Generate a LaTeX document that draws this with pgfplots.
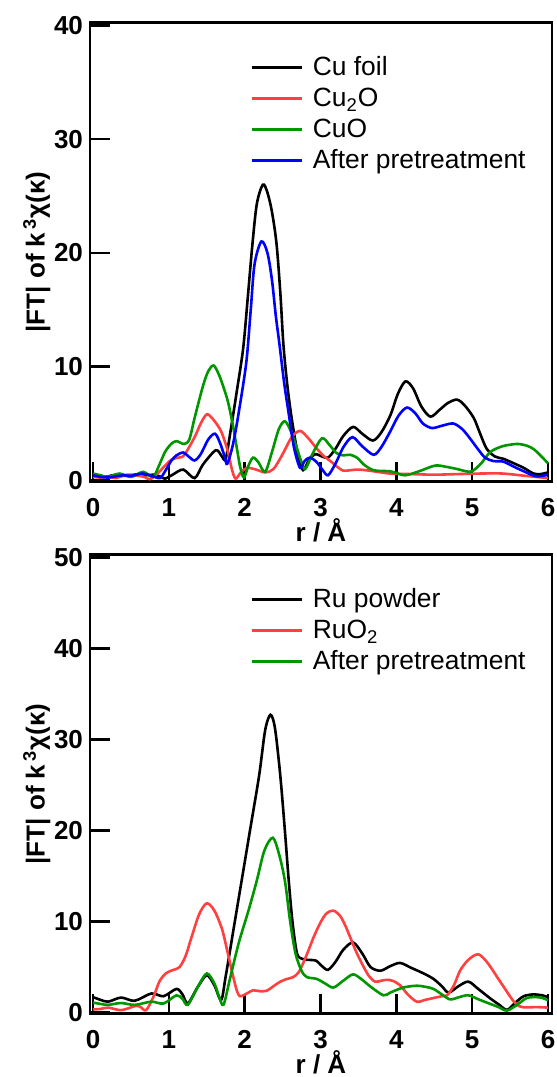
\documentclass[border=0pt]{standalone}
\usepackage{fontspec}
\setmainfont{Liberation Sans}
\usepackage{pgfplots}
\pgfplotsset{compat=1.18}
\definecolor{cRed}{RGB}{255,64,64}
\definecolor{cGreen}{RGB}{0,150,0}
\definecolor{cBlue}{RGB}{0,0,255}
\pgfplotsset{
  ft/.style={
    scale only axis, width=231pt, height=229.5pt,
    xmin=-0.04, xmax=6.053, xtick={0,...,6},
    axis line style={line width=1.3pt},
    tick align=inside, tick pos=left,
    major tick length=10pt,
    every tick/.style={black, line width=1.3pt},
    tick label style={font=\bfseries\fontsize{13}{15}\selectfont},
    xticklabel style={yshift=-5pt},
    /pgf/number format/assume math mode=true,
    label style={font=\bfseries\fontsize{13}{15}\selectfont},
    xlabel={r / Å},
    ylabel={|FT| of k\textsuperscript{\,3}χ(κ)},
    xlabel style={at={(axis description cs:0.5,0)}, anchor=north, yshift=-18.5pt, inner sep=0pt},
    ylabel style={at={(axis description cs:-0.115,0.5)}, anchor=center},
    every axis plot/.append style={line width=1.3pt, smooth, tension=0.5},
    legend image code/.code={\draw[#1] (0pt,0pt) -- (25pt,0pt);},
    legend cell align=left,
    legend style={at={(axis description cs:0.346,0.928)}, anchor=north west,
      draw=none, fill=none, inner sep=0pt, column sep=5pt, row sep=4pt,
      font=\fontsize{13.2}{15}\selectfont,
      nodes={inner sep=0pt, text height=10pt}},
  }}
\begin{document}
\begin{tikzpicture}
\useasboundingbox (0,0) rectangle (278.5pt,-538.5pt);
% Cu K-edge
\begin{axis}[ft, at={(45pt,-11.25pt)}, anchor=north west,
  ymin=-0.1, ymax=40.25, ytick={0,10,...,40}]
\addplot[black] coordinates {(0,0.45) (0.1,0.3) (0.2,0.35) (0.3,0.5) (0.4,0.4) (0.5,0.45) (0.6,0.55) (0.7,0.45) (0.8,0.5) (0.9,0.3) (0.95,0.15) (1.05,0.5) (1.19,0.95) (1.34,0.2) (1.45,1.4) (1.62,2.65) (1.70,2.1) (1.75,1.9) (1.82,4.6) (1.90,8.0) (1.98,11.6) (2.04,16) (2.10,20.6) (2.16,24.3) (2.24,26.0) (2.30,25.3) (2.36,23.6) (2.42,20.8) (2.47,16.5) (2.51,12.0) (2.56,8.5) (2.61,5.9) (2.66,3.8) (2.71,2.0) (2.77,0.9) (2.85,1.8) (2.93,2.3) (3.02,2.1) (3.10,2.0) (3.2,2.8) (3.3,3.9) (3.43,4.7) (3.55,4.1) (3.69,3.5) (3.8,4.2) (3.92,5.7) (4.02,7.6) (4.12,8.7) (4.22,8.1) (4.33,6.5) (4.45,5.6) (4.57,6.2) (4.68,6.8) (4.80,7.1) (4.9,6.6) (5.02,5.5) (5.1,4.2) (5.19,2.8) (5.3,2.1) (5.41,1.9) (5.55,1.5) (5.68,1.1) (5.81,0.6) (5.9,0.55) (6.0,0.7)};
\addlegendentry{Cu foil}
\addplot[cRed] coordinates {(0,0.3) (0.1,0.25) (0.2,0.3) (0.3,0.2) (0.45,0.5) (0.6,0.4) (0.68,0.3) (0.75,0.1) (0.85,0.6) (0.95,1.3) (1.03,1.8) (1.12,2.0) (1.2,2.2) (1.34,3.8) (1.42,5.0) (1.50,5.8) (1.58,5.4) (1.69,4.3) (1.78,2.5) (1.83,1.0) (1.88,0.15) (1.95,0.7) (2.03,1.1) (2.15,0.95) (2.27,0.7) (2.38,1.0) (2.5,2.3) (2.62,3.8) (2.73,4.35) (2.84,3.7) (2.95,2.8) (3.05,2.1) (3.13,1.7) (3.22,1.2) (3.30,0.85) (3.40,0.9) (3.50,0.95) (3.65,0.85) (3.8,0.7) (3.92,0.6) (4.2,0.55) (4.5,0.5) (4.8,0.55) (5.1,0.6) (5.4,0.6) (5.7,0.4) (6.0,0.2)};
\addlegendentry{Cu\textsubscript{2}O}
\addplot[cGreen] coordinates {(0,0.6) (0.1,0.45) (0.2,0.3) (0.35,0.6) (0.5,0.3) (0.66,0.75) (0.79,0.3) (0.87,1.3) (0.95,2.5) (1.03,3.2) (1.10,3.45) (1.2,3.2) (1.27,3.6) (1.34,5.5) (1.45,8.3) (1.52,9.6) (1.59,10.1) (1.66,9.3) (1.72,8.2) (1.78,6.9) (1.84,5.0) (1.89,3.1) (1.94,1.2) (1.99,0.25) (2.05,1.3) (2.11,2.0) (2.18,1.6) (2.27,0.75) (2.36,2.5) (2.45,4.5) (2.53,5.2) (2.61,4.3) (2.69,2.8) (2.75,1.6) (2.80,1.0) (2.9,2.4) (3.02,3.7) (3.12,3.1) (3.21,2.4) (3.30,2.2) (3.39,2.25) (3.48,2.0) (3.57,1.4) (3.66,1.0) (3.74,0.85) (3.92,0.8) (4.0,0.65) (4.12,0.45) (4.3,0.8) (4.51,1.3) (4.65,1.2) (4.80,1.0) (4.92,0.8) (5.0,0.8) (5.12,1.5) (5.24,2.5) (5.4,3.0) (5.59,3.2) (5.72,3.05) (5.81,2.75) (5.9,2.2) (6.0,1.5)};
\addlegendentry{CuO}
\addplot[cBlue] coordinates {(0,0.45) (0.1,0.3) (0.2,0.25) (0.3,0.35) (0.4,0.45) (0.5,0.4) (0.65,0.6) (0.75,0.45) (0.88,0.2) (0.95,0.8) (1.03,1.7) (1.1,2.2) (1.19,2.45) (1.26,2.1) (1.34,1.75) (1.42,2.3) (1.52,3.6) (1.61,4.1) (1.68,3.2) (1.74,2.0) (1.77,1.45) (1.84,3.0) (1.91,5.5) (2.02,10.3) (2.08,15) (2.13,19) (2.22,21.0) (2.30,20.0) (2.36,17.6) (2.41,14.5) (2.46,11.9) (2.52,8.6) (2.58,5.9) (2.65,2.9) (2.73,1.1) (2.79,1.7) (2.86,2.0) (2.95,1.6) (3.03,0.9) (3.10,0.45) (3.2,1.5) (3.3,2.9) (3.42,3.8) (3.55,3.0) (3.70,2.25) (3.80,2.9) (3.92,4.3) (4.03,5.7) (4.14,6.4) (4.25,5.9) (4.35,5.0) (4.47,4.6) (4.6,4.8) (4.75,5.0) (4.87,4.5) (4.97,3.7) (5.07,2.8) (5.17,2.0) (5.28,1.7) (5.41,1.65) (5.55,1.2) (5.68,0.8) (5.78,0.5) (5.85,0.35) (5.93,0.4) (6.0,0.5)};
\addlegendentry{After pretreatment}
\end{axis}
% Ru K-edge
\begin{axis}[ft, at={(45pt,-277.25pt)}, anchor=north west,
  ymin=-0.1, ymax=50.3, ytick={0,10,...,50}]
\addplot[black] coordinates {(0,1.7) (0.1,1.4) (0.2,1.2) (0.37,1.65) (0.55,1.3) (0.77,2.1) (0.93,1.8) (1.10,2.6) (1.18,2.0) (1.25,1.0) (1.38,2.8) (1.50,4.1) (1.60,3.0) (1.69,1.4) (1.75,4.0) (1.87,10) (1.96,14.5) (2.07,20) (2.19,26) (2.27,31) (2.34,32.7) (2.40,31.2) (2.47,26) (2.53,20) (2.58,14.6) (2.63,10.0) (2.69,6.5) (2.76,5.9) (2.82,5.8) (2.94,5.7) (3.02,5.1) (3.10,4.7) (3.2,5.6) (3.3,6.9) (3.43,7.7) (3.55,6.5) (3.66,5.0) (3.79,4.6) (3.92,5.1) (4.05,5.45) (4.2,4.9) (4.36,4.3) (4.49,3.7) (4.60,2.9) (4.69,2.2) (4.82,2.9) (4.95,3.4) (5.08,2.6) (5.24,1.55) (5.35,0.9) (5.46,0.3) (5.57,1.1) (5.68,1.8) (5.81,2.0) (5.92,1.9) (6.0,1.7)};
\addlegendentry{Ru powder}
\addplot[cRed] coordinates {(0,0.35) (0.1,0.4) (0.2,0.55) (0.37,0.27) (0.55,0.7) (0.62,0.65) (0.70,0.27) (0.8,1.8) (0.88,3.5) (0.96,4.3) (1.03,4.6) (1.14,5.0) (1.22,6.2) (1.30,8.3) (1.40,10.8) (1.50,12.0) (1.60,11.2) (1.70,9.2) (1.77,6.8) (1.83,4.6) (1.89,2.6) (1.94,1.8) (2.05,2.2) (2.11,2.45) (2.2,2.35) (2.29,2.4) (2.38,2.9) (2.47,3.4) (2.56,3.7) (2.64,3.9) (2.71,4.4) (2.77,5.4) (2.84,6.8) (2.91,8.3) (3.0,9.9) (3.08,10.9) (3.17,11.2) (3.26,10.6) (3.33,9.5) (3.39,8.3) (3.48,6.5) (3.57,5.0) (3.64,4.0) (3.72,3.4) (3.80,3.5) (3.87,3.6) (3.95,3.5) (4.05,3.0) (4.15,2.0) (4.27,1.2) (4.38,1.4) (4.49,1.6) (4.60,1.8) (4.67,1.9) (4.76,3.0) (4.84,4.6) (4.95,5.8) (5.08,6.4) (5.2,5.5) (5.33,3.9) (5.45,2.4) (5.55,1.2) (5.62,0.7) (5.68,0.57) (5.85,0.6) (6.0,0.55)};
\addlegendentry{RuO\textsubscript{2}}
\addplot[cGreen] coordinates {(0,1.1) (0.1,0.95) (0.2,0.85) (0.37,1.05) (0.55,0.85) (0.77,1.2) (0.93,1.0) (1.10,1.9) (1.18,1.5) (1.25,0.85) (1.38,2.8) (1.50,4.3) (1.60,3.2) (1.66,1.8) (1.72,0.85) (1.8,3.5) (1.92,7.6) (2.05,11.2) (2.16,14.5) (2.26,17.8) (2.37,19.2) (2.45,17.5) (2.53,14.5) (2.60,10.0) (2.67,6.5) (2.75,4.6) (2.82,3.9) (2.95,3.7) (3.06,3.2) (3.17,2.75) (3.3,3.5) (3.43,4.2) (3.55,3.6) (3.66,2.85) (3.83,1.9) (3.92,2.2) (4.09,2.75) (4.27,2.95) (4.40,2.8) (4.49,2.6) (4.6,2.0) (4.71,1.45) (4.83,1.7) (4.95,1.9) (5.1,1.4) (5.24,0.95) (5.35,0.6) (5.46,0.22) (5.6,0.9) (5.72,1.6) (5.85,1.7) (5.93,1.6) (6.0,1.35)};
\addlegendentry{After pretreatment}
\end{axis}
\end{tikzpicture}
\end{document}
